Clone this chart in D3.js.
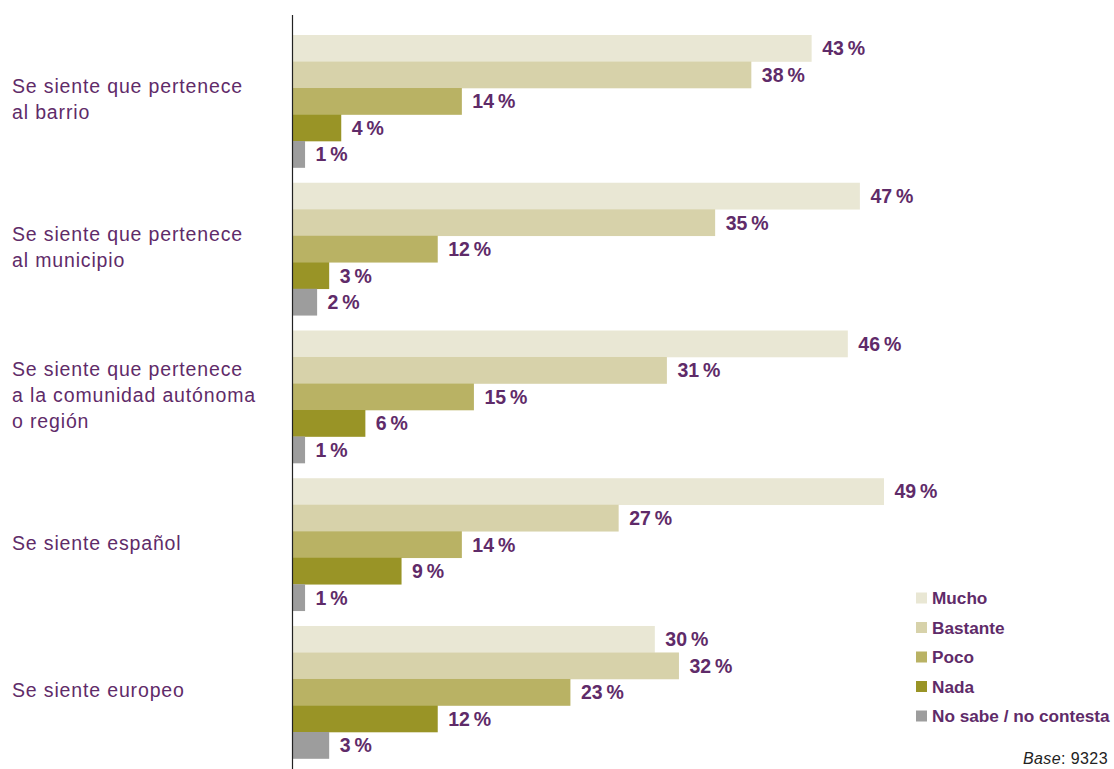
<!DOCTYPE html>
<html>
<head>
<meta charset="utf-8">
<script src="https://cdn.jsdelivr.net/npm/d3@7"></script>
<style>
  html, body { margin: 0; padding: 0; background: #fff; }
  svg { display: block; }
</style>
</head>
<body>
<svg id="chart" width="1114" height="769"></svg>
<script>
const categories = [
  ["Se siente que pertenece", "al barrio"],
  ["Se siente que pertenece", "al municipio"],
  ["Se siente que pertenece", "a la comunidad autónoma", "o región"],
  ["Se siente español"],
  ["Se siente europeo"]
];
const seriesNames = ["Mucho", "Bastante", "Poco", "Nada", "No sabe / no contesta"];
const mucho    = [43, 47, 46, 49, 30];
const bastante = [38, 35, 31, 27, 32];
const poco     = [14, 12, 15, 14, 23];
const nada     = [4, 3, 6, 9, 12];
const nsnc     = [1, 2, 1, 1, 3];
const colors = ["#e9e7d4", "#d7d2aa", "#b9b264", "#999426", "#9d9d9d"];
const baseText = "9323";

const series = [mucho, bastante, poco, nada, nsnc];
const purple = "#5f2b69";
const FONT = "'Liberation Sans', Arial, sans-serif";

const svg = d3.select("#chart");
const axisX = 292.5;

const x = d3.scaleLinear().domain([0, 49]).range([293, 884]);
const y0 = d3.scaleBand().domain(d3.range(categories.length)).range([35, 758.5]).paddingInner(0.103).paddingOuter(0);
const y1 = d3.scaleBand().domain(d3.range(seriesNames.length)).range([0, y0.bandwidth()]).padding(0);

const g = svg.append("g");
categories.forEach((cat, i) => {
  const gg = g.append("g").attr("transform", `translate(0,${y0(i)})`);
  series.forEach((s, j) => {
    gg.append("rect")
      .attr("x", x(0))
      .attr("y", y1(j))
      .attr("width", x(s[i]) - x(0))
      .attr("height", y1.bandwidth() + 0.3)
      .attr("fill", colors[j]);
    gg.append("text")
      .attr("x", x(s[i]) + 10.5)
      .attr("y", y1(j) + y1.bandwidth() / 2)
      .attr("dy", "0.36em")
      .attr("font-family", FONT)
      .attr("font-weight", "bold")
      .attr("font-size", 19.5)
      .attr("fill", purple)
      .text(s[i] + "\u2009%");
  });
  // category label
  const cy = y0(i) + y0.bandwidth() / 2 - 2;
  const lh = 26;
  const t = svg.append("text")
    .attr("font-family", FONT)
    .attr("font-size", 19.5)
    .attr("letter-spacing", 0.85)
    .attr("fill", purple);
  cat.forEach((line, k) => {
    t.append("tspan")
      .attr("x", 12)
      .attr("y", cy + (k - (cat.length - 1) / 2) * lh)
      .attr("dy", "0.36em")
      .text(line);
  });
});

// vertical axis line
svg.append("line")
  .attr("x1", axisX).attr("x2", axisX)
  .attr("y1", 15).attr("y2", 769)
  .attr("stroke", "#222").attr("stroke-width", 1.2);

// legend
const lg = svg.append("g").attr("transform", "translate(916,598)");
seriesNames.forEach((n, j) => {
  const row = lg.append("g").attr("transform", `translate(0,${j * 29.5})`);
  row.append("rect").attr("x", 0).attr("y", -5.5).attr("width", 11).attr("height", 11).attr("fill", colors[j]);
  row.append("text")
    .attr("x", 16).attr("y", 0).attr("dy", "0.36em")
    .attr("font-family", FONT)
    .attr("font-weight", "bold")
    .attr("font-size", 17.2)
    .attr("fill", purple)
    .text(n);
});

// base note
const bt = svg.append("text")
  .attr("x", 1023).attr("y", 764)
  .attr("font-family", FONT)
  .attr("font-size", 16)
  .attr("letter-spacing", 0.4)
  .attr("fill", "#222");
bt.append("tspan").attr("font-style", "italic").text("Base");
bt.append("tspan").text(": " + baseText);
</script>
</body>
</html>
